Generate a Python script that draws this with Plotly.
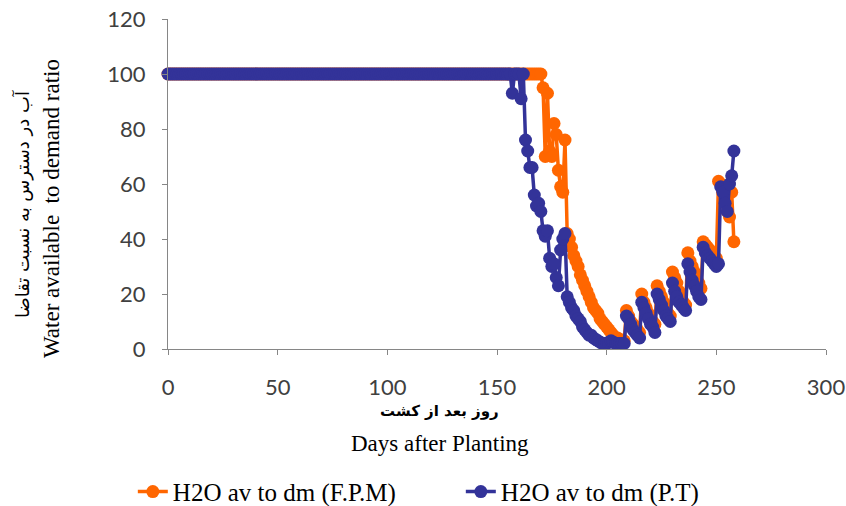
import plotly.graph_objects as go

days = list(range(0, 259))

fpm_values = [100] * 171 + [
    95, 70, 93, 72, 70, 82, 78, 65, 59, 57,          # 171-180
    76, 42, 40, 37, 34, 32, 30, 27, 25, 23,          # 181-190
    21, 19, 17, 15, 14, 13, 11, 10, 9, 8,            # 191-200
    7, 6, 5, 4, 4, 3.5, 3, 3, 14, 12,                # 201-210
    10, 9, 8, 7, 6, 20, 17, 15, 13, 11,              # 211-220
    10, 9, 23, 21, 19, 17, 15, 13, 12, 28,           # 221-230
    26, 24, 21, 19, 17, 16, 35, 32, 30, 28,          # 231-240
    26, 24, 22, 39, 38, 37, 36, 35, 34, 33,          # 241-250
    61, 60, 57, 53, 50, 48, 57, 39                   # 251-258
]

pt_values = [100] * 157 + [
    93, 100, 100, 100,                               # 157-160
    91, 100, 76, 72, 66, 66, 56, 52, 53, 50,         # 161-170
    43, 41, 43, 33, 30, 31, 26, 23, 36, 40,          # 171-180
    42, 19, 17, 15, 14, 12, 11, 10, 8, 7,            # 181-190
    6, 5, 5, 4, 3.5, 3, 2.5, 2, 2, 2,                # 191-200
    2.5, 3, 2.5, 2, 2, 2, 2, 2, 12, 11,              # 201-210
    9, 7, 6, 5, 4, 17, 15, 13, 11, 9,                # 211-220
    8, 6, 20, 18, 16, 14, 12, 11, 10, 24,            # 221-230
    21, 19, 17, 16, 15, 14, 31, 28, 25, 23,          # 231-240
    21, 19, 18, 37, 35, 34, 33, 32, 31, 30,          # 241-250
    31, 59, 57, 53, 50, 60, 63, 72                   # 251-258
]

series_names = ["H2O av to dm (F.P.M)", "H2O av to dm (P.T)"]
series_colors = ["#FF6600", "#333399"]

x_ticks = [0, 50, 100, 150, 200, 250, 300]
y_ticks = [0, 20, 40, 60, 80, 100, 120]

fig = go.Figure()
for vals, name, col in zip([fpm_values, pt_values], series_names, series_colors):
    fig.add_trace(go.Scatter(
        x=days, y=vals, name=name, mode="lines+markers",
        line=dict(color=col, width=3.5),
        marker=dict(color=col, size=13),
        cliponaxis=False,
    ))

axis_common = dict(
    showgrid=False, zeroline=False, showline=True, automargin=False,
    linecolor="#868686", linewidth=1,
    ticks="outside", ticklen=5, tickcolor="#868686",
    tickfont=dict(family="Lato, sans-serif", size=22, color="#404040"),
)

fig.update_layout(
    width=846, height=506,
    margin=dict(l=168, r=20, t=19, b=157),
    plot_bgcolor="white", paper_bgcolor="white",
    xaxis=dict(range=[0, 300], tickvals=x_ticks, ticklabelstandoff=14, **axis_common),
    yaxis=dict(range=[0, 120], tickvals=y_ticks, ticklabelstandoff=12, **axis_common),
    showlegend=True,
    legend=dict(
        orientation="h", xref="container", yref="container",
        x=0.157, xanchor="left", y=0.028, yanchor="middle",
        font=dict(family="Liberation Serif, serif", size=25, color="#000000"),
        entrywidth=283, entrywidthmode="pixels",
    ),
    annotations=[
        dict(text="روز بعد از کشت", xref="paper", yref="paper", x=0.413, y=0,
             yshift=-62, xanchor="center", yanchor="middle", showarrow=False,
             font=dict(family="DejaVu Sans, sans-serif", size=15, color="#000000", weight="bold")),
        dict(text="Days after Planting", xref="paper", yref="paper", x=0.413, y=0,
             yshift=-94, xanchor="center", yanchor="middle", showarrow=False,
             font=dict(family="Liberation Serif, serif", size=23, color="#000000")),
        dict(text="Water available  to demand ratio", xref="paper", yref="paper", x=0, y=0.5,
             xshift=-117, yshift=-25, xanchor="center", yanchor="middle", showarrow=False, textangle=-90,
             font=dict(family="Liberation Serif, serif", size=23, color="#000000")),
        dict(text="آب در دسترس به نسبت تقاضا", xref="paper", yref="paper", x=0, y=0.5,
             xshift=-146, yshift=-20, xanchor="center", yanchor="middle", showarrow=False, textangle=-90,
             font=dict(family="DejaVu Sans, sans-serif", size=18, color="#000000")),
    ],
)

fig.write_html("out.html", config={"displayModeBar": False},
               post_script="document.body.style.margin='0';")
